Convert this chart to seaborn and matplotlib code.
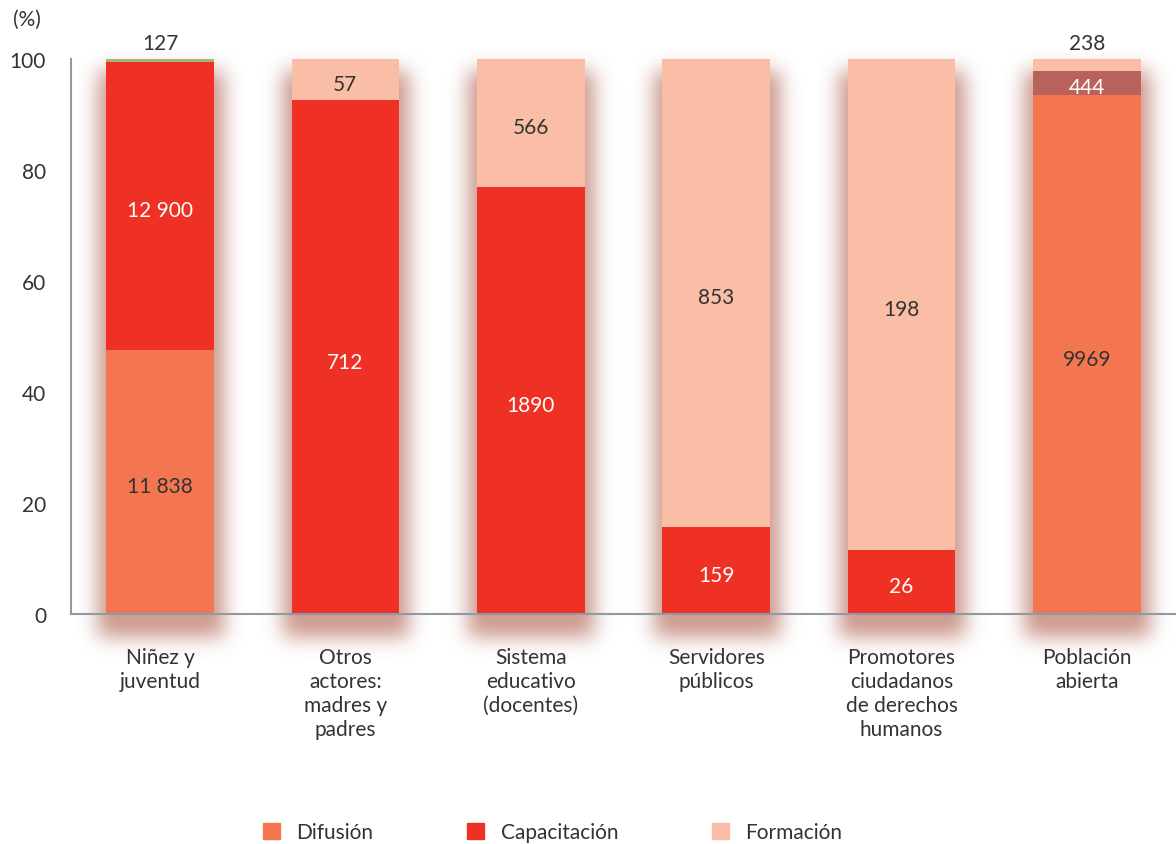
import matplotlib
matplotlib.use("Agg")
import matplotlib.pyplot as plt
from matplotlib.patches import Patch
import numpy as np
import pandas as pd
import seaborn as sns

# Datos: personas atendidas por tipo de actividad
categorias = ["Niñez y\njuventud", "Otros\nactores:\nmadres y\npadres",
              "Sistema\neducativo\n(docentes)", "Servidores\npúblicos",
              "Promotores\nciudadanos\nde derechos\nhumanos", "Población\nabierta"]
difusion = [11838, 0, 0, 0, 0, 9969]
capacitacion = [12900, 712, 1890, 159, 26, 0]
otros = [127, 0, 0, 0, 0, 444]
formacion = [0, 57, 566, 853, 198, 238]

capas = ["Difusión", "Capacitación", "Otros", "Formación"]
colores = {"Difusión": "#f37650", "Capacitación": "#ee3124",
           "Otros": "#b9625b", "Formación": "#f9bea5"}
colores_otros = ["#9cb87a", "#f9bea5", "#f9bea5", "#f9bea5", "#f9bea5", "#b9625b"]
color_texto = {"Difusión": "#333333", "Capacitación": "white",
               "Otros": "white", "Formación": "#333333"}

df = pd.DataFrame({"cat": categorias, "Difusión": difusion,
                   "Capacitación": capacitacion, "Otros": otros,
                   "Formación": formacion})
pct = df[capas].div(df[capas].sum(axis=1), axis=0) * 100
acum = pct.cumsum(axis=1)

ANCHO = 0.58
FUENTE = 15

sns.set_theme(style="white")
plt.rcParams["font.family"] = ["Lato", "DejaVu Sans"]
plt.rcParams["text.color"] = "#333333"

fig = plt.figure(figsize=(11.76, 8.45), dpi=100)
ax = fig.add_axes([0.0604, 0.2722, 0.9396, 0.6568])

# sombra difusa bajo las barras (mascara desenfocada)
x0, x1, y0, y1 = -0.8, 5.8, -18, 108
nx, ny = 1270, 700
gx = np.linspace(x0, x1, nx)
gy = np.linspace(y0, y1, ny)
mascara = np.zeros((ny, nx))
desp = 2.2      # desplazamiento hacia abajo (unidades de %)
extra_x = 0.05  # ensanche lateral
extra_y = 2.0
for i, alto in enumerate(acum["Formación"]):
    cols = np.abs(gx - i) < ANCHO / 2 + extra_x
    filas = (gy > -desp - extra_y) & (gy < alto - desp)
    mascara[np.ix_(filas, cols)] = 1.0


def gauss(sigma):
    k = np.arange(-3 * int(sigma), 3 * int(sigma) + 1)
    g = np.exp(-0.5 * (k / sigma) ** 2)
    return g / g.sum()


kx = gauss(10)
ky = gauss(10)
blur = np.apply_along_axis(lambda r: np.convolve(r, kx, mode="same"), 1, mascara)
blur = np.apply_along_axis(lambda c: np.convolve(c, ky, mode="same"), 0, blur)
rgba = np.zeros((ny, nx, 4))
rgba[..., :3] = matplotlib.colors.to_rgb("#b06050")
rgba[..., 3] = np.clip(blur * 0.65, 0, 0.6)
ax.imshow(rgba, extent=(x0, x1, y0, y1), origin="lower", aspect="auto",
          interpolation="bilinear", zorder=1, clip_on=False)

# barras apiladas (de arriba hacia abajo)
sns.barplot(x=df["cat"], y=acum["Formación"], color=colores["Formación"],
            width=ANCHO, linewidth=0, saturation=1, ax=ax, zorder=2)
sns.barplot(x=df["cat"], y=acum["Otros"], hue=df["cat"], palette=colores_otros,
            width=ANCHO, linewidth=0, saturation=1, legend=False, ax=ax, zorder=2)
sns.barplot(x=df["cat"], y=acum["Capacitación"], color=colores["Capacitación"],
            width=ANCHO, linewidth=0, saturation=1, ax=ax, zorder=2)
sns.barplot(x=df["cat"], y=acum["Difusión"], color=colores["Difusión"],
            width=ANCHO, linewidth=0, saturation=1, ax=ax, zorder=2)


def etiqueta(n):
    if n >= 10000:
        return f"{n:,}".replace(",", " ")
    return str(n)


for i in range(len(df)):
    base = 0
    for capa in capas:
        v = pct.loc[i, capa]
        n = df.loc[i, capa]
        if n > 0:
            if v < 3:
                y, c = 102.8, "#333333"
            else:
                y, c = base + v / 2 - 0.8, color_texto[capa]
            ax.text(i, y, etiqueta(n), ha="center", va="center",
                    fontsize=FUENTE, color=c, zorder=5, clip_on=False)
        base += v

ax.set_xlim(-0.48, 5.48)
ax.set_ylim(0, 100)
ax.set_yticks([0, 20, 40, 60, 80, 100])
ax.set_xlabel("")
ax.set_ylabel("")
ax.tick_params(axis="y", length=0, pad=18, labelsize=FUENTE, labelcolor="#333333")
ax.tick_params(axis="x", length=0, pad=24, labelsize=FUENTE, labelcolor="#333333")
for lab in ax.get_xticklabels():
    lab.set_linespacing(1.25)
for s in ["top", "right"]:
    ax.spines[s].set_visible(False)
for s in ["left", "bottom"]:
    ax.spines[s].set_color("#8d9ba7")
    ax.spines[s].set_linewidth(1.5)
    ax.spines[s].set_zorder(6)

fig.text(13 / 1176, 1 - 20 / 845, "(%)", fontsize=FUENTE, va="center", ha="left")

handles = [Patch(color=colores[k]) for k in ["Difusión", "Capacitación", "Formación"]]
fig.legend(handles, ["Difusión", "Capacitación", "Formación"], loc="center",
           bbox_to_anchor=(0.47, 1 - 833 / 845), ncol=3, frameon=False,
           fontsize=FUENTE, handlelength=0.8, handleheight=0.8,
           handletextpad=0.8, columnspacing=4.5)

fig.savefig("out.png", dpi=100)
